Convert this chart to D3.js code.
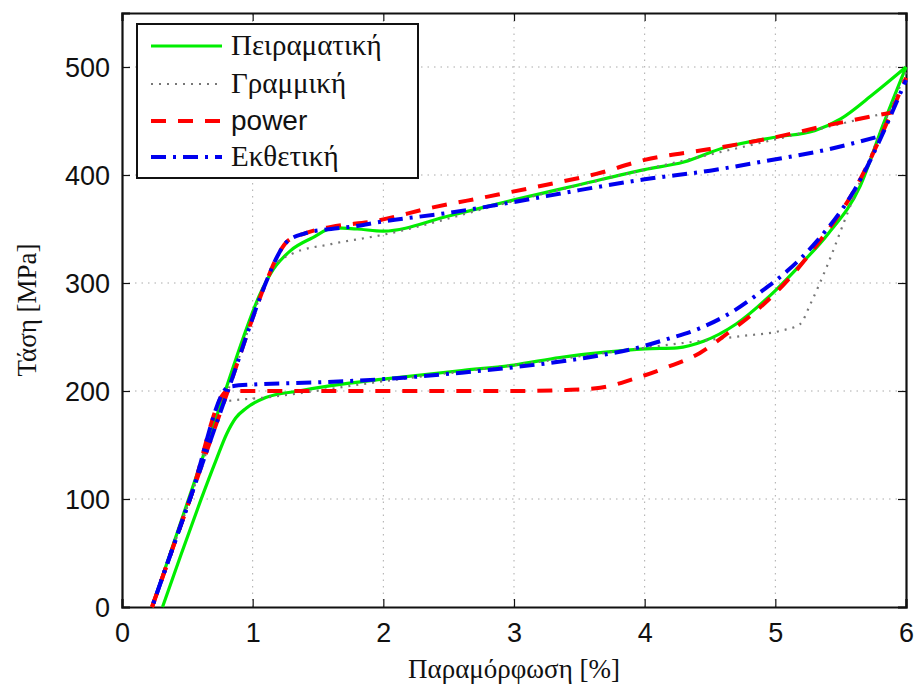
<!DOCTYPE html>
<html>
<head>
<meta charset="utf-8">
<script src="https://cdn.jsdelivr.net/npm/d3@7"></script>
<style>
  body { margin: 0; background: #fff; }
  svg { display: block; }
</style>
</head>
<body>
<script>
// stress-strain loops: experiment and three models (load branch / unload branch)

const xTicks = [0, 1, 2, 3, 4, 5, 6];
const yTicks = [0, 100, 200, 300, 400, 500];
const names = ["Πειραματική", "Γραμμική", "power", "Εκθετική"];

// Πειραματική (experiment)
const expLoad = [[0.23,0],[0.51,100],[0.79,200],[0.93,250],[1.05,288],[1.16,313],[1.29,330],[1.46,342],[1.62,351],[1.8,350],[2.0,348],[2.5,362],[3.0,377],[3.5,391],[4.0,405],[4.3,412],[4.6,425],[5.0,435],[5.3,441],[5.5,452],[5.75,475],[6.0,500]];
const expUnload = [[0.31,0],[0.45,48],[0.6,98],[0.72,136],[0.8,160],[0.87,175],[0.95,184],[1.1,194],[1.35,200],[1.6,205],[2.0,211],[2.6,219],[3.0,224],[3.35,231],[3.7,236],[4.0,239],[4.25,240],[4.45,246],[4.7,262],[5.0,293],[5.2,318],[5.4,345],[5.65,390],[5.82,445],[6.0,500]];

// Γραμμική (linear)
const linLoad = [[0.23,0],[0.52,100],[0.81,200],[1.1,300],[1.16,315],[1.3,327],[1.6,336],[1.97,344],[3,376],[4,405],[5,433],[5.9,459]];
const linUnload = [[0.23,0],[0.52,100],[0.78,190],[1.1,194],[2,209],[3,224],[4,240],[4.4,246],[4.75,251],[5.05,256],[5.19,262],[5.27,281],[5.39,314],[5.55,364],[6.0,495]];

// power
const powLoad = [[0.23,0],[0.52,100],[0.81,200],[1.1,300],[1.19,325],[1.26,338],[1.4,346],[1.6,352],[1.92,357],[2.38,370],[2.8,380],[3.25,391],[3.63,401],[4.0,414],[4.5,424],[5.0,435],[5.4,446],[5.9,458]];
const powUnload = [[0.23,0],[0.52,100],[0.81,200],[0.86,200],[1.5,200],[2.5,200],[3.0,200],[3.4,201],[3.66,203],[3.91,211],[4.17,222],[4.42,235],[4.63,253],[4.88,277],[5.09,302],[5.29,331],[5.6,385],[6.0,490]];

// Εκθετική (exponential)
const expoLoad = [[0.23,0],[0.52,100],[0.81,200],[1.1,300],[1.19,325],[1.26,338],[1.4,346],[1.6,350],[1.75,352],[2.0,357],[2.5,365],[3.0,375],[3.5,386],[4.0,396],[4.5,404],[4.93,413],[5.45,425],[5.8,436]];
const expoUnload = [[0.23,0],[0.52,100],[0.82,204],[1.0,206],[1.5,208],[2.0,211],[2.6,217],[3.0,222],[3.4,228],[3.66,233],[3.91,239],[4.17,248],[4.42,258],[4.68,274],[4.88,291],[5.09,311],[5.32,339],[5.6,385],[6.0,488]];

const width = 917;
const height = 691;
const margin = {top: 13, right: 11, bottom: 84, left: 122};

const svg = d3.select("body")
    .append("svg")
    .attr("width", width)
    .attr("height", height);

const xScale = d3.scaleLinear()
    .domain([0, 6])
    .range([margin.left, width - margin.right]);

const yScale = d3.scaleLinear()
    .domain([0, 550])
    .range([height - margin.bottom, margin.top]);

const x0 = xScale(0), x1 = xScale(6), y0 = yScale(0), y1 = yScale(550);

// grid
svg.append("g")
    .selectAll("line.vx")
    .data(xTicks.slice(1, -1))
    .join("line")
    .attr("x1", d => xScale(d)).attr("x2", d => xScale(d))
    .attr("y1", y0).attr("y2", y1)
    .attr("stroke", "#aaa").attr("stroke-width", 1)
    .attr("stroke-dasharray", "1.5,5");

svg.append("g")
    .selectAll("line.hy")
    .data(yTicks.slice(1))
    .join("line")
    .attr("x1", x0).attr("x2", x1)
    .attr("y1", d => yScale(d)).attr("y2", d => yScale(d))
    .attr("stroke", "#aaa").attr("stroke-width", 1)
    .attr("stroke-dasharray", "1.5,5");

// axes with inward ticks, MATLAB box style
const fontSans = "'Liberation Sans', Arial, sans-serif";
const fontSerif = "'Liberation Serif', 'DejaVu Serif', serif";

const xAxis = svg.append("g")
    .attr("transform", `translate(0,${y0})`)
    .call(d3.axisBottom(xScale).tickValues(xTicks).tickSize(-8).tickPadding(16).tickFormat(d3.format("d")));
const yAxis = svg.append("g")
    .attr("transform", `translate(${x0},0)`)
    .call(d3.axisLeft(yScale).tickValues(yTicks).tickSize(-8).tickPadding(12).tickFormat(d3.format("d")));
svg.append("g")
    .attr("transform", `translate(0,${y1})`)
    .call(d3.axisTop(xScale).tickValues(xTicks).tickSize(-8).tickFormat(""));
svg.append("g")
    .attr("transform", `translate(${x1},0)`)
    .call(d3.axisRight(yScale).tickValues(yTicks).tickSize(-8).tickFormat(""));

svg.selectAll(".domain").attr("stroke", "#111").attr("stroke-width", 2.2);
svg.selectAll(".tick line").attr("stroke", "#111").attr("stroke-width", 1.2);
svg.selectAll(".tick text")
    .attr("font-family", fontSans)
    .attr("font-size", 27)
    .attr("fill", "#111");
xAxis.selectAll(".tick text").attr("dy", "0.71em");
yAxis.selectAll(".tick text").attr("dy", "0.36em");

// curves
const line = d3.line()
    .x(d => xScale(d[0]))
    .y(d => yScale(d[1]))
    .curve(d3.curveMonotoneX);

const styles = [
    {color: "#00ee00", width: 3.2, dash: null, offset: 0},
    {color: "#777", width: 2.2, dash: "2,6", offset: 0},
    {color: "#ff0000", width: 4, dash: "15,12", offset: 0},
    {color: "#0000ee", width: 4, dash: "15,7,3,7", offset: -14}
];
const series = [
    [expLoad, expUnload],
    [linLoad, linUnload],
    [powLoad, powUnload],
    [expoLoad, expoUnload]
];

series.forEach((branches, i) => {
    branches.forEach(b => {
        svg.append("path")
            .datum(b)
            .attr("fill", "none")
            .attr("stroke", styles[i].color)
            .attr("stroke-width", styles[i].width)
            .attr("stroke-dasharray", styles[i].dash)
            .attr("stroke-dashoffset", styles[i].offset)
            .attr("stroke-linejoin", "round")
            .attr("d", line);
    });
});

// legend
const legend = svg.append("g");
legend.append("rect")
    .attr("x", 137).attr("y", 24)
    .attr("width", 281).attr("height", 154)
    .attr("fill", "#fff")
    .attr("stroke", "#111")
    .attr("stroke-width", 2);

const rowY = [46, 84, 121, 157];
names.forEach((name, i) => {
    legend.append("line")
        .attr("x1", 151).attr("x2", 222)
        .attr("y1", rowY[i]).attr("y2", rowY[i])
        .attr("stroke", styles[i].color)
        .attr("stroke-width", styles[i].width)
        .attr("stroke-dasharray", styles[i].dash);
    legend.append("text")
        .attr("x", 231)
        .attr("y", rowY[i] + 9)
        .attr("font-family", name === "power" ? fontSans : fontSerif)
        .attr("font-size", name === "power" ? 28 : 29)
        .attr("fill", "#111")
        .text(name);
});

// axis titles
svg.append("text")
    .attr("x", (x0 + x1) / 2)
    .attr("y", 678)
    .attr("text-anchor", "middle")
    .attr("font-family", fontSerif)
    .attr("font-size", 27)
    .attr("fill", "#111")
    .text("Παραμόρφωση [%]");

svg.append("text")
    .attr("transform", `translate(36,${(y0 + y1) / 2}) rotate(-90)`)
    .attr("text-anchor", "middle")
    .attr("font-family", fontSerif)
    .attr("font-size", 27)
    .attr("fill", "#111")
    .text("Τάση [MPa]");
</script>
</body>
</html>
